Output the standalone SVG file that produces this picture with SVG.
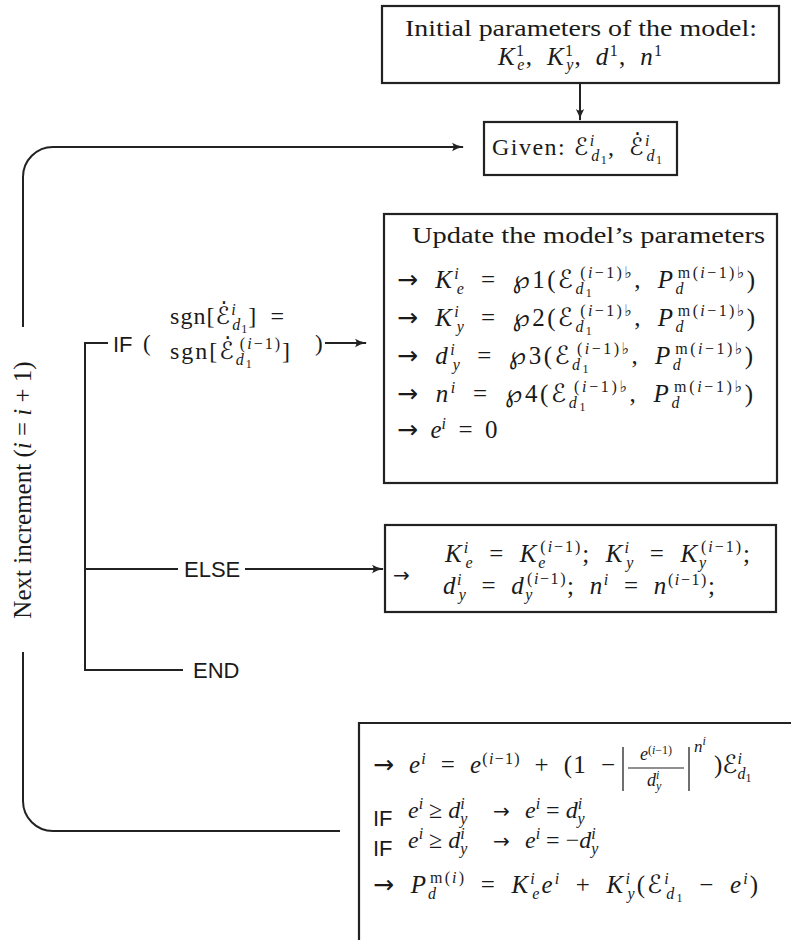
<svg xmlns="http://www.w3.org/2000/svg" width="791" height="940" viewBox="0 0 791 940">
<defs>
<style>
.t{font-family:"Liberation Serif","DejaVu Serif",serif;font-size:23px;fill:#1a1a1a}
.m{font-size:25px}
.m4{font-size:24px}
.i{font-style:italic}
.s{font-size:16px}
.ss{font-size:12px}
.sy{font-family:"DejaVu Sans",sans-serif;font-style:normal}
.sf{font-family:"Liberation Sans","DejaVu Sans",sans-serif;font-size:22px;fill:#1a1a1a}
.box{fill:#fff;stroke:#222;stroke-width:2.2}
.ln{fill:none;stroke:#222;stroke-width:2}
.thin{fill:none;stroke:#222;stroke-width:1.2}
</style>
<marker id="ah" viewBox="0 0 12 10" refX="11" refY="5" markerWidth="12" markerHeight="10" markerUnits="userSpaceOnUse" orient="auto"><path d="M0,0.8 Q5,4 12,5 Q5,6 0,9.2 Q3,5 0,0.8 Z" fill="#222"/></marker>
</defs>
<rect width="791" height="940" fill="#fff"/>

<g id="connectors">
<path class="ln" d="M23,327 V177 A30,30 0 0 1 53,147 H463" marker-end="url(#ah)"/>
<path class="ln" d="M23,652 V801 A30,30 0 0 0 53,831 H340"/>
<path class="ln" d="M580,83 V120" marker-end="url(#ah)"/>
<path class="ln" d="M108,343 H85 V670 H183"/>
<path class="ln" d="M85,569 H178"/>
<path class="ln" d="M245,569 H383" marker-end="url(#ah)"/>
<path class="ln" d="M325,343 H366" marker-end="url(#ah)"/>
</g>

<g id="label-increment">
<text class="t" transform="translate(31,490) rotate(-90)" text-anchor="middle" style="font-size:25px">Next increment (<tspan class="i">i</tspan> = <tspan class="i">i</tspan> + 1)</text>
</g>

<g id="init">
<rect class="box" x="382" y="6" width="397" height="77"/>
<text class="t" x="581" y="36" text-anchor="middle" textLength="352" lengthAdjust="spacingAndGlyphs">Initial parameters of the model:</text>
<text class="t m" x="498" y="65" textLength="164"><tspan class="i">K</tspan><tspan class="s" dy="-9">1</tspan><tspan class="s i" dx="-8" dy="14">e</tspan><tspan dy="-5">,&#8194;</tspan><tspan class="i">K</tspan><tspan class="s" dy="-9">1</tspan><tspan class="s i" dx="-8" dy="14">y</tspan><tspan dy="-5">,&#8194;</tspan><tspan class="i">d</tspan><tspan class="s" dy="-9">1</tspan><tspan dy="9">,&#8194;</tspan><tspan class="i">n</tspan><tspan class="s" dy="-9">1</tspan></text>
</g>

<g id="given">
<rect class="box" x="484" y="122" width="193" height="53"/>
<text class="t m4" x="492" y="155" textLength="170">Given: <tspan class="sy">ℰ</tspan><tspan class="s i" dy="-9">i</tspan><tspan class="s i" dx="-4.5" dy="15">d</tspan><tspan class="ss" dy="3">1</tspan><tspan dy="-9">,&#8194;</tspan><tspan class="sy">ℰ̇</tspan><tspan class="s i" dy="-9">i</tspan><tspan class="s i" dx="-4.5" dy="15">d</tspan><tspan class="ss" dy="3">1</tspan></text>
</g>

<g id="update">
<rect class="box" x="384" y="214" width="393" height="269"/>
<text class="t" x="412" y="243" textLength="353" lengthAdjust="spacingAndGlyphs">Update the model’s parameters</text>
<text class="t m" x="397" y="288" textLength="358"><tspan class="sy">→</tspan>&#8194;<tspan class="i">K</tspan><tspan class="s i" dy="-9">i</tspan><tspan class="s i" dx="-4.5" dy="15">e</tspan><tspan dy="-6">&#8194;=&#8194;</tspan><tspan class="sy">℘</tspan>1(<tspan class="sy">ℰ</tspan><tspan class="s i" dy="6">d</tspan><tspan class="ss" dy="3">1</tspan><tspan class="s" dx="-14" dy="-19">(<tspan class="i">i</tspan>−1)<tspan class="sy">♭</tspan></tspan><tspan dy="10">,&#8194;</tspan><tspan class="i">P</tspan><tspan class="s i" dy="6">d</tspan><tspan class="s" dx="-8" dy="-16">m(<tspan class="i">i</tspan>−1)<tspan class="sy">♭</tspan></tspan><tspan dy="10">)</tspan></text>
<text class="t m" x="397" y="326" textLength="358"><tspan class="sy">→</tspan>&#8194;<tspan class="i">K</tspan><tspan class="s i" dy="-9">i</tspan><tspan class="s i" dx="-4.5" dy="15">y</tspan><tspan dy="-6">&#8194;=&#8194;</tspan><tspan class="sy">℘</tspan>2(<tspan class="sy">ℰ</tspan><tspan class="s i" dy="6">d</tspan><tspan class="ss" dy="3">1</tspan><tspan class="s" dx="-14" dy="-19">(<tspan class="i">i</tspan>−1)<tspan class="sy">♭</tspan></tspan><tspan dy="10">,&#8194;</tspan><tspan class="i">P</tspan><tspan class="s i" dy="6">d</tspan><tspan class="s" dx="-8" dy="-16">m(<tspan class="i">i</tspan>−1)<tspan class="sy">♭</tspan></tspan><tspan dy="10">)</tspan></text>
<text class="t m" x="397" y="364" textLength="356"><tspan class="sy">→</tspan>&#8194;<tspan class="i">d</tspan><tspan class="s i" dy="-9">i</tspan><tspan class="s i" dx="-4.5" dy="15">y</tspan><tspan dy="-6">&#8194;=&#8194;</tspan><tspan class="sy">℘</tspan>3(<tspan class="sy">ℰ</tspan><tspan class="s i" dy="6">d</tspan><tspan class="ss" dy="3">1</tspan><tspan class="s" dx="-14" dy="-19">(<tspan class="i">i</tspan>−1)<tspan class="sy">♭</tspan></tspan><tspan dy="10">,&#8194;</tspan><tspan class="i">P</tspan><tspan class="s i" dy="6">d</tspan><tspan class="s" dx="-8" dy="-16">m(<tspan class="i">i</tspan>−1)<tspan class="sy">♭</tspan></tspan><tspan dy="10">)</tspan></text>
<text class="t m" x="397" y="402" textLength="356"><tspan class="sy">→</tspan>&#8194;<tspan class="i">n</tspan><tspan class="s i" dy="-9">i</tspan><tspan dy="9">&#8194;=&#8194;</tspan><tspan class="sy">℘</tspan>4(<tspan class="sy">ℰ</tspan><tspan class="s i" dy="6">d</tspan><tspan class="ss" dy="3">1</tspan><tspan class="s" dx="-14" dy="-19">(<tspan class="i">i</tspan>−1)<tspan class="sy">♭</tspan></tspan><tspan dy="10">,&#8194;</tspan><tspan class="i">P</tspan><tspan class="s i" dy="6">d</tspan><tspan class="s" dx="-8" dy="-16">m(<tspan class="i">i</tspan>−1)<tspan class="sy">♭</tspan></tspan><tspan dy="10">)</tspan></text>
<text class="t m" x="397" y="438"><tspan class="sy">→</tspan>&#8194;<tspan class="i">e</tspan><tspan class="s i" dy="-9">i</tspan><tspan dy="9">&#8194;=&#8194;0</tspan></text>
</g>

<g id="if-cond">
<text class="sf" x="113" y="352">IF</text>
<text class="t" x="143" y="351">(</text>
<text class="t m4" x="170" y="324" textLength="114">sgn[<tspan class="sy">ℰ̇</tspan><tspan class="s i" dy="-9">i</tspan><tspan class="s i" dx="-4.5" dy="15">d</tspan><tspan class="ss" dy="3">1</tspan><tspan dy="-9">]&#8194;=</tspan></text>
<text class="t m4" x="170" y="359" textLength="120">sgn[<tspan class="sy">ℰ̇</tspan><tspan class="s i" dy="6">d</tspan><tspan class="ss" dy="3">1</tspan><tspan class="s" dx="-14" dy="-19">(<tspan class="i">i</tspan>−1)</tspan><tspan dy="10">]</tspan></text>
<text class="t" x="315" y="351">)</text>
</g>

<g id="else-label"><text class="sf" x="184" y="577">ELSE</text></g>
<g id="end-label"><text class="sf" x="193" y="678">END</text></g>

<g id="else-box">
<rect class="box" x="385" y="525" width="391" height="87"/>
<text class="t sy" x="393" y="582" style="font-size:20px">→</text>
<text class="t m" x="445" y="562" textLength="305"><tspan class="i">K</tspan><tspan class="s i" dy="-9">i</tspan><tspan class="s i" dx="-4.5" dy="15">e</tspan><tspan dy="-6">&#8194;=&#8194;</tspan><tspan class="i">K</tspan><tspan class="s i" dy="6">e</tspan><tspan class="s" dx="-7.1" dy="-16">(<tspan class="i">i</tspan>−1)</tspan><tspan dy="10">;&#8194;</tspan><tspan class="i">K</tspan><tspan class="s i" dy="-9">i</tspan><tspan class="s i" dx="-4.5" dy="15">y</tspan><tspan dy="-6">&#8194;=&#8194;</tspan><tspan class="i">K</tspan><tspan class="s i" dy="6">y</tspan><tspan class="s" dx="-7.1" dy="-16">(<tspan class="i">i</tspan>−1)</tspan><tspan dy="10">;</tspan></text>
<text class="t m" x="443" y="594" textLength="272"><tspan class="i">d</tspan><tspan class="s i" dy="-9">i</tspan><tspan class="s i" dx="-4.5" dy="15">y</tspan><tspan dy="-6">&#8194;=&#8194;</tspan><tspan class="i">d</tspan><tspan class="s i" dy="6">y</tspan><tspan class="s" dx="-7.1" dy="-16">(<tspan class="i">i</tspan>−1)</tspan><tspan dy="10">;&#8194;</tspan><tspan class="i">n</tspan><tspan class="s i" dy="-9">i</tspan><tspan dy="9">&#8194;=&#8194;</tspan><tspan class="i">n</tspan><tspan class="s" dy="-9">(<tspan class="i">i</tspan>−1)</tspan><tspan dy="9">;</tspan></text>
</g>

<g id="final-box">
<path class="box" d="M791,723 H359 V940" fill="none"/>
<text class="t m" x="373" y="773" textLength="242"><tspan class="sy">→</tspan>&#8194;<tspan class="i">e</tspan><tspan class="s i" dy="-9">i</tspan><tspan dy="9">&#8194;=&#8194;</tspan><tspan class="i">e</tspan><tspan class="s" dy="-9">(<tspan class="i">i</tspan>−1)</tspan><tspan dy="9">&#8194;+&#8194;(1&#8194;−</tspan></text>
<line class="ln" x1="623" y1="747" x2="623" y2="791" style="stroke-width:1.3"/>
<text class="t" x="656" y="760" text-anchor="middle" style="font-size:18px"><tspan class="i">e</tspan><tspan class="ss" dy="-6">(<tspan class="i">i</tspan>−1)</tspan></text>
<line class="thin" x1="628" y1="768" x2="684" y2="768"/>
<text class="t" x="647" y="786" style="font-size:18px"><tspan class="i">d</tspan><tspan class="ss i" dy="-7">i</tspan><tspan class="ss i" dx="-3.3" dy="11">y</tspan></text>
<line class="ln" x1="689" y1="747" x2="689" y2="791" style="stroke-width:1.3"/>
<text class="t" x="694" y="752" style="font-size:17px"><tspan class="i">n</tspan><tspan class="ss i" dy="-7">i</tspan></text>
<text class="t m" x="714" y="773">)<tspan class="sy">ℰ</tspan><tspan class="s i" dy="-9">i</tspan><tspan class="s i" dx="-4.5" dy="15">d</tspan><tspan class="ss" dy="3">1</tspan></text>

<text class="sf" x="373" y="826">IF</text>
<text class="t m4" x="408" y="818"><tspan class="i">e</tspan><tspan class="s i" dy="-9">i</tspan><tspan dy="9"> ≥ </tspan><tspan class="i">d</tspan><tspan class="s i" dy="-9">i</tspan><tspan class="s i" dx="-4.5" dy="15">y</tspan></text>
<text class="t sy" x="493" y="818" style="font-size:20px">→</text>
<text class="t m4" x="525" y="818"><tspan class="i">e</tspan><tspan class="s i" dy="-9">i</tspan><tspan dy="9"> = </tspan><tspan class="i">d</tspan><tspan class="s i" dy="-9">i</tspan><tspan class="s i" dx="-4.5" dy="15">y</tspan></text>

<text class="sf" x="373" y="856">IF</text>
<text class="t m4" x="408" y="848"><tspan class="i">e</tspan><tspan class="s i" dy="-9">i</tspan><tspan dy="9"> ≥ </tspan><tspan class="i">d</tspan><tspan class="s i" dy="-9">i</tspan><tspan class="s i" dx="-4.5" dy="15">y</tspan></text>
<text class="t sy" x="493" y="848" style="font-size:20px">→</text>
<text class="t m4" x="525" y="848"><tspan class="i">e</tspan><tspan class="s i" dy="-9">i</tspan><tspan dy="9"> = −</tspan><tspan class="i">d</tspan><tspan class="s i" dy="-9">i</tspan><tspan class="s i" dx="-4.5" dy="15">y</tspan></text>

<text class="t m" x="373" y="893" textLength="385"><tspan class="sy">→</tspan>&#8194;<tspan class="i">P</tspan><tspan class="s i" dy="6">d</tspan><tspan class="s" dx="-8" dy="-16">m(<tspan class="i">i</tspan>)</tspan><tspan dy="10">&#8194;=&#8194;</tspan><tspan class="i">K</tspan><tspan class="s i" dy="-9">i</tspan><tspan class="s i" dx="-4.5" dy="15">e</tspan><tspan class="i" dy="-6">e</tspan><tspan class="s i" dy="-9">i</tspan><tspan dy="9">&#8194;+&#8194;</tspan><tspan class="i">K</tspan><tspan class="s i" dy="-9">i</tspan><tspan class="s i" dx="-4.5" dy="15">y</tspan><tspan dy="-6">(</tspan><tspan class="sy">ℰ</tspan><tspan class="s i" dy="-9">i</tspan><tspan class="s i" dx="-4.5" dy="15">d</tspan><tspan class="ss" dy="3">1</tspan><tspan dy="-9">&#8194;−&#8194;</tspan><tspan class="i">e</tspan><tspan class="s i" dy="-9">i</tspan><tspan dy="9">)</tspan></text>
</g>
</svg>
